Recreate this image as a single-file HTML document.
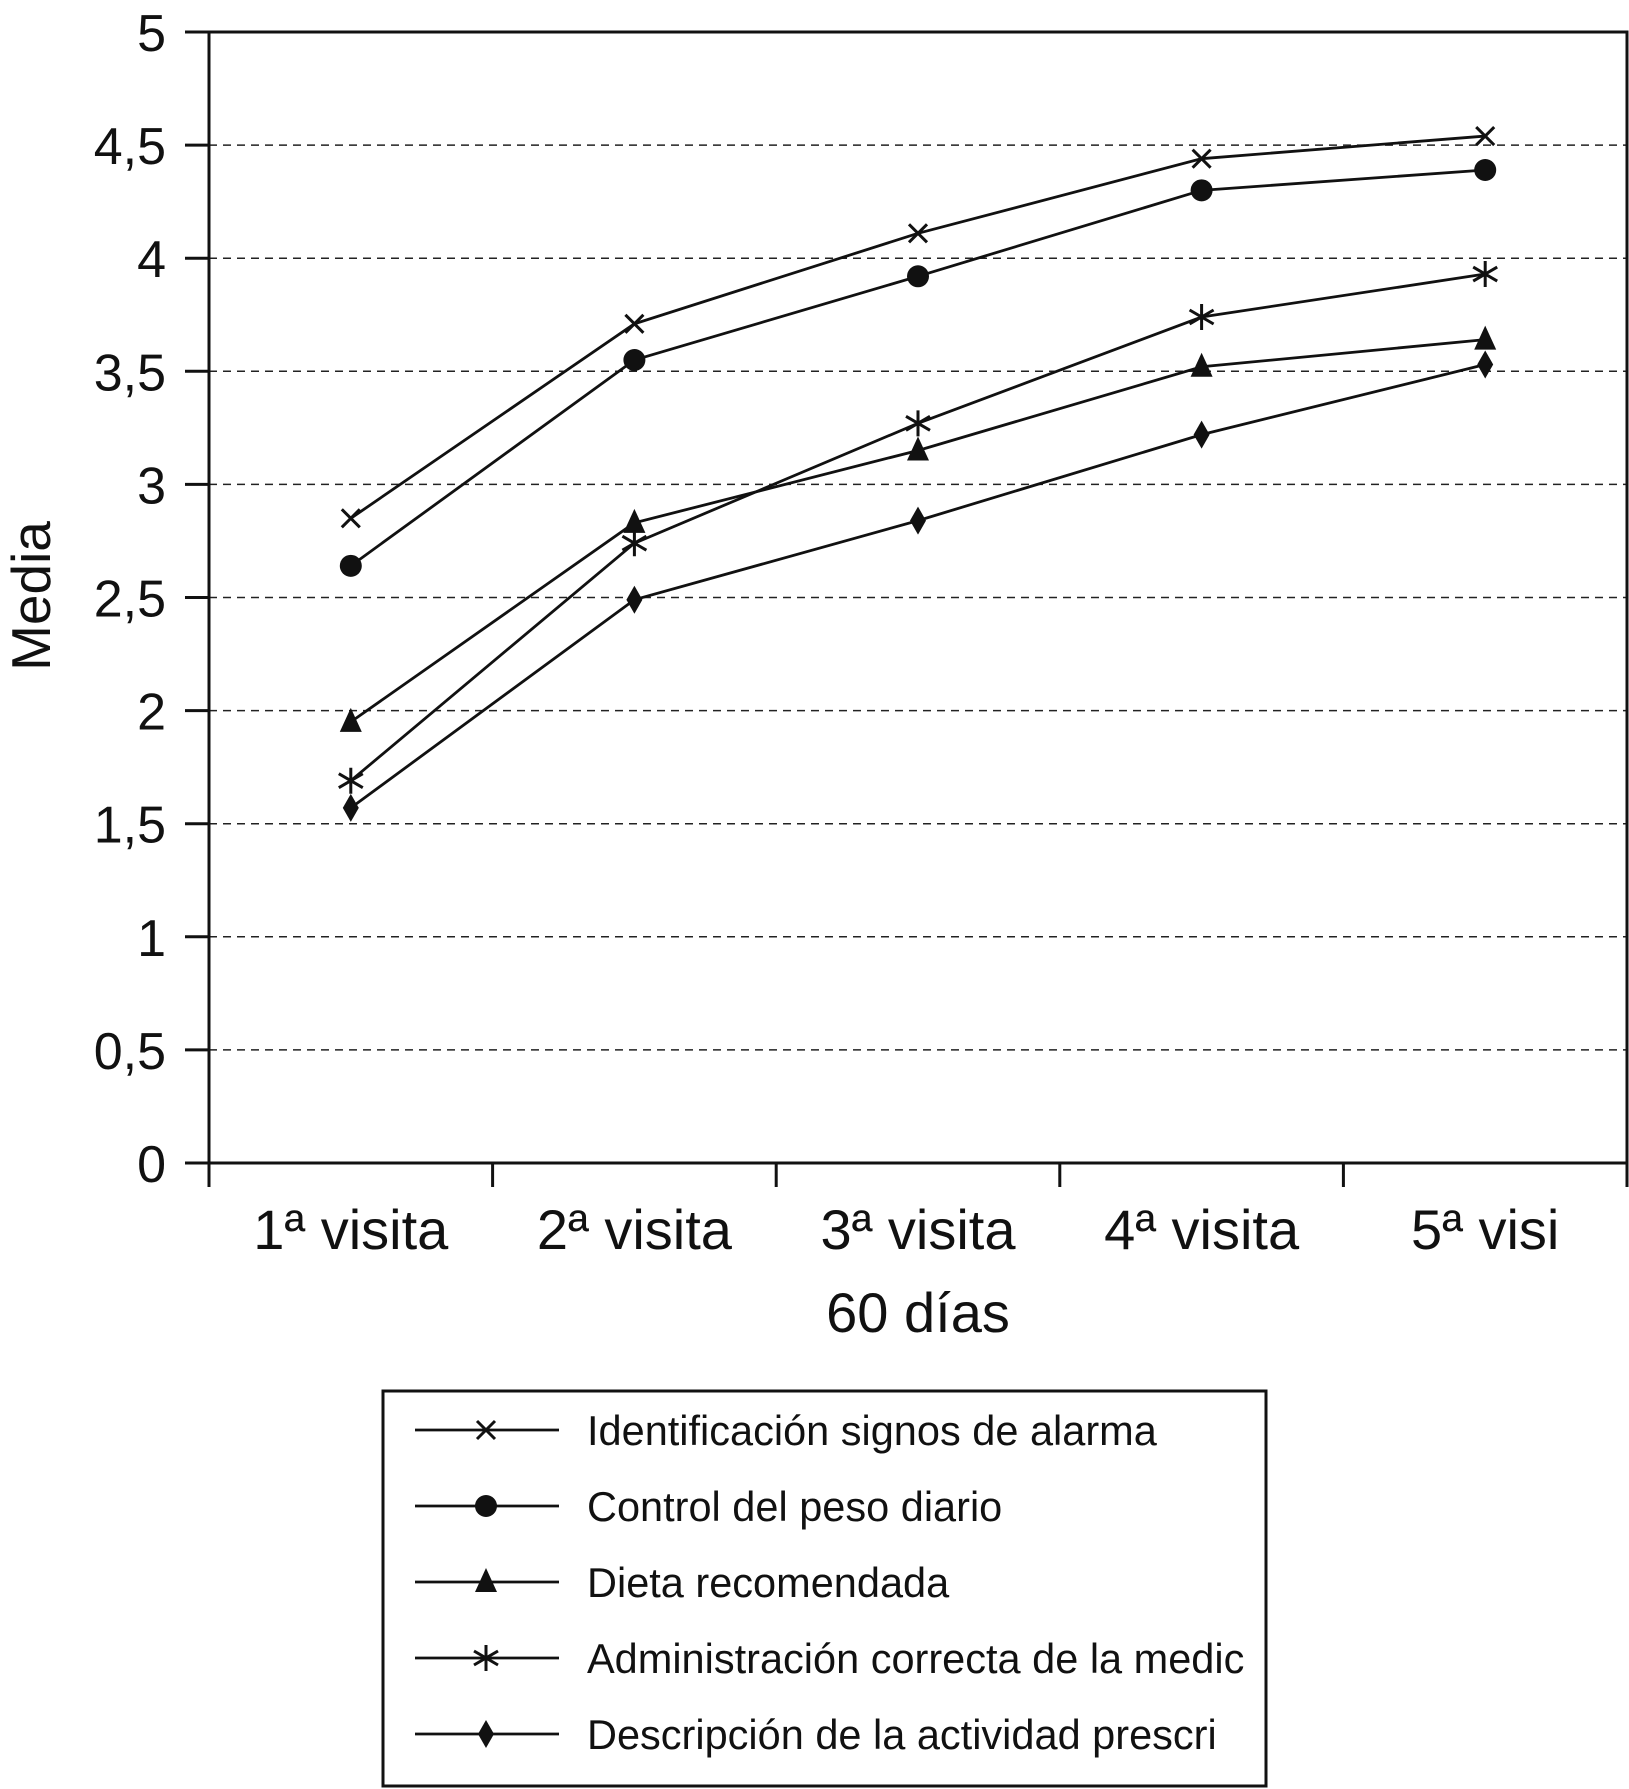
<!DOCTYPE html>
<html><head><meta charset="utf-8"><style>
html,body{margin:0;padding:0;background:#fff;}
svg{display:block;font-family:"Liberation Sans",Arial,sans-serif;}
</style></head><body>
<svg id="chart" width="1629" height="1789" viewBox="0 0 1629 1789" xmlns="http://www.w3.org/2000/svg"></svg>
<script>
const categories = ["1ª visita","2ª visita","3ª visita","4ª visita","5ª visi"];
const yTicks = [0,0.5,1,1.5,2,2.5,3,3.5,4,4.5,5];
const yTickLabels = ["0","0,5","1","1,5","2","2,5","3","3,5","4","4,5","5"];
const seriesNames = ["Identificación signos de alarma","Control del peso diario","Dieta recomendada","Administración correcta de la medic","Descripción de la actividad prescri"];
const seriesMarkers = ["x","circle","triangle","star","diamond"];
const sAlarma = [2.85,3.71,4.11,4.44,4.54];
const sPeso = [2.64,3.55,3.92,4.30,4.39];
const sDieta = [1.95,2.83,3.15,3.52,3.64];
const sMedic = [1.69,2.74,3.27,3.74,3.93];
const sActividad = [1.57,2.49,2.84,3.22,3.53];
const allSeries = [sAlarma,sPeso,sDieta,sMedic,sActividad];
const seriesKeys = ["alarma","peso","dieta","medic","actividad"];

const L=209,R=1627,T=32,B=1163;
const NS="http://www.w3.org/2000/svg";
const svg=document.getElementById('chart');
const bw=(R-L)/categories.length;
function xPos(i){return L+bw*(i+0.5);}
function yPos(v){return B-(v/5)*(B-T);}
function mk(tag,attrs,parent){const e=document.createElementNS(NS,tag);for(const k in attrs)e.setAttribute(k,attrs[k]);(parent||svg).appendChild(e);return e;}

yTicks.forEach((t,i)=>{
  if(t>0&&t<5){const g=mk('line',{x1:L,x2:R,y1:yPos(t),y2:yPos(t),stroke:'#222','stroke-width':1.5,'stroke-dasharray':'8 6'});
  
  }
  const tk=mk('line',{x1:L-24,x2:L,y1:yPos(t),y2:yPos(t),stroke:'#111','stroke-width':3});
  
  
  const tx=mk('text',{x:L-43,y:yPos(t)+19,'text-anchor':'end','font-size':52,fill:'#111'});
  tx.textContent=yTickLabels[i];
  
  
});
const ax=mk('path',{d:`M${L},${T} H${R} V${B+24} M${L},${T} V${B+24} M${L},${B} H${R}`,fill:'none',stroke:'#111','stroke-width':3});


categories.forEach((c,i)=>{
  const tk=mk('line',{x1:L+bw*(i+1),x2:L+bw*(i+1),y1:B,y2:B+24,stroke:'#111','stroke-width':3});
  
  
  const t=mk('text',{x:xPos(i),y:1249,'text-anchor':'middle','font-size':56,fill:'#111'});
  t.textContent=c;
  
  
});
const xt=mk('text',{x:xPos(2),y:1332,'text-anchor':'middle','font-size':56,fill:'#111'});
xt.textContent='60 días';


const yt=mk('text',{x:0,y:0,'text-anchor':'middle','font-size':55,fill:'#111',transform:'translate(50,596) rotate(-90)'});
yt.textContent='Media';



function marker(type,x,y,parent){
  let e;
  if(type==='x'){e=mk('path',{d:`M${x-9},${y-9}L${x+9},${y+9}M${x-9},${y+9}L${x+9},${y-9}`,stroke:'#111','stroke-width':3,fill:'none'},parent);}
  else if(type==='circle'){e=mk('circle',{cx:x,cy:y,r:11,fill:'#111'},parent);}
  else if(type==='triangle'){e=mk('path',{d:`M${x},${y-14}L${x+11},${y+10}L${x-11},${y+10}Z`,fill:'#111'},parent);}
  else if(type==='star'){e=mk('path',{d:`M${x},${y-13}V${y+13}M${x-12},${y-7}L${x+12},${y+7}M${x-12},${y+7}L${x+12},${y-7}`,stroke:'#111','stroke-width':3,fill:'none'},parent);}
  else {e=mk('path',{d:`M${x},${y-14}L${x+8},${y}L${x},${y+14}L${x-8},${y}Z`,fill:'#111'},parent);}
  return e;
}
allSeries.forEach((s,si)=>{
  const g=mk('g',{});
  
  
  const pl=mk('polyline',{points:s.map((v,i)=>xPos(i)+','+yPos(v)).join(' '),fill:'none',stroke:'#111','stroke-width':2.8},g);
  
  
  s.forEach((v,i)=>{const m=marker(seriesMarkers[si],xPos(i),yPos(v),g);
    
    });
});
const lg=mk('g',{});


const lb=mk('rect',{x:383,y:1391,width:883,height:395,fill:'#fff',stroke:'#111','stroke-width':3},lg);


const rowY=[1430,1506,1582,1658,1734];
seriesNames.forEach((n,i)=>{
  const e=mk('g',{},lg);
  
  
  mk('line',{x1:415,x2:559,y1:rowY[i],y2:rowY[i],stroke:'#111','stroke-width':2.8},e);
  marker(seriesMarkers[i],486,rowY[i],e);
  const t=mk('text',{x:587,y:rowY[i]+15,'font-size':41.5,fill:'#111'},e);
  t.textContent=n;
});
</script>
</body></html>
